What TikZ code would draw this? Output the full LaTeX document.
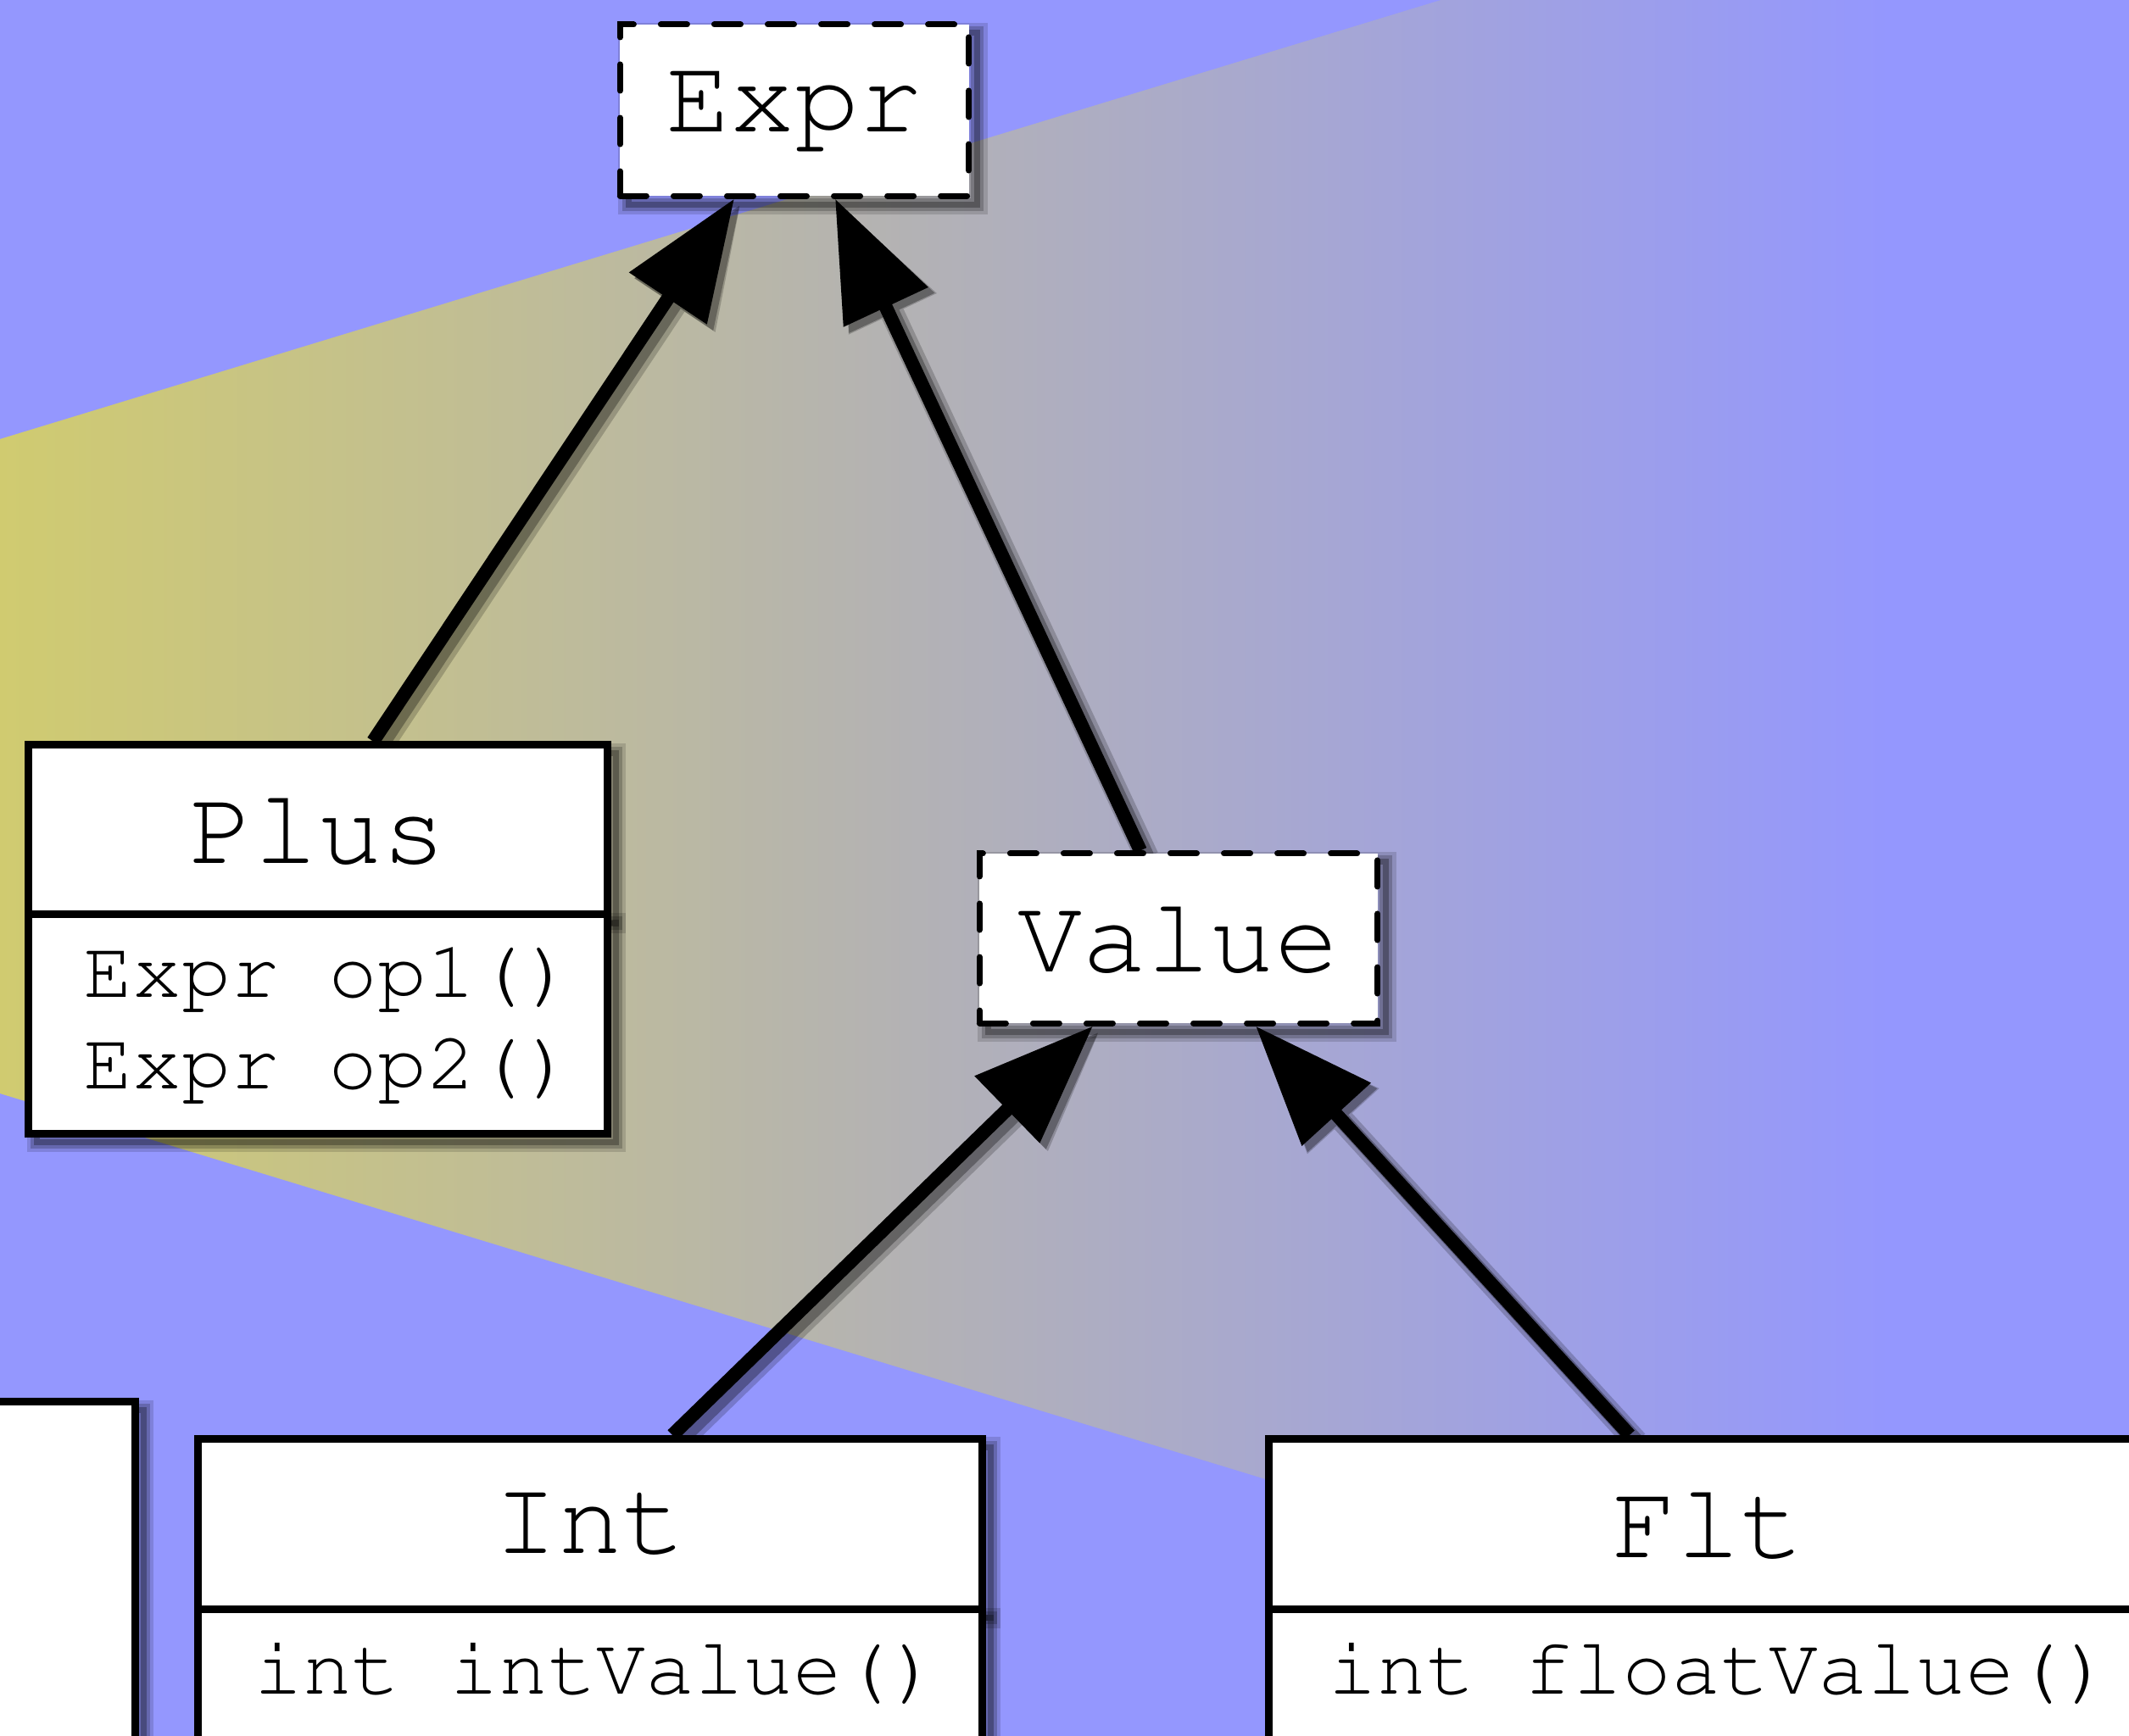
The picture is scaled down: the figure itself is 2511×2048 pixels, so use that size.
\documentclass[tikz,border=0pt]{standalone}
\usepackage[T1]{fontenc}
\usepackage{courier}
\usetikzlibrary{arrows.meta}
\definecolor{bgblue}{RGB}{148,151,254}
\definecolor{beamY}{RGB}{208,203,112}
\pgfdeclarelayer{backdrop}
\pgfdeclarelayer{arrowlayer}
\pgfsetlayers{backdrop,arrowlayer,main}
\tikzset{
  softshadow/.style={
    preaction={draw=black, solid, draw opacity=0.14, line width=0.24cm, transform canvas={xshift=0.10cm, yshift=-0.10cm}},
    preaction={draw=black, solid, draw opacity=0.2, line width=0.15cm, transform canvas={xshift=0.10cm, yshift=-0.10cm}},
    preaction={draw=black, solid, draw opacity=0.28, line width=0.07cm, transform canvas={xshift=0.10cm, yshift=-0.10cm}}},
  classbox/.style={softshadow, draw=black, fill=white, line width=0.09cm, inner sep=0pt},
  dashbox/.style={classbox, line width=0.07cm, dash pattern=on 0.31cm off 0.32cm, line cap=round},
  titlefont/.style={font=\ttfamily\fontsize{36}{40}\selectfont},
  bodyfont/.style={font=\ttfamily\fontsize{27.4}{30.6}\selectfont, align=center, inner sep=0pt},
  connector/.style={line width=0.16cm, -{Triangle[length=1.41cm, width=1.06cm]}},
  shadowA/.style={connector, line width=0.28cm, transform canvas={xshift=0.08cm, yshift=-0.08cm}},
  shadowB/.style={connector, line width=0.19cm, transform canvas={xshift=0.07cm, yshift=-0.07cm}},
}
\newcommand\drawconns[1]{%
  \draw[#1] ([xshift=0.65cm]plustitle.north) -- ([xshift=-0.71cm]expr.south);
  \draw[#1] ([xshift=-0.45cm]value.north) -- ([xshift=0.48cm]expr.south);
  \draw[#1] ([xshift=0.97cm]inttitle.north) -- ([xshift=-1.01cm]value.south);
  \draw[#1] ([xshift=-0.93cm]flttitle.north) -- ([xshift=0.91cm]value.south);
}
\begin{document}
\begin{tikzpicture}[x=0.01cm, y=-0.01cm]
\useasboundingbox (0,0) rectangle (2511,2048);
\begin{pgfonlayer}{backdrop}
  \fill[bgblue] (0,0) rectangle (2511,2048);
  \begin{scope}
    \clip (0,518) -- (2700,-305) -- (2700,2113) -- (0,1290) -- cycle;
    \shade[left color=beamY, right color=bgblue] (0,-400) rectangle (2230,2200);
  \end{scope}
\end{pgfonlayer}

% classes
\node[dashbox, titlefont, minimum width=4.11cm, minimum height=2.02cm] (expr) at (937,130) {Expr};
\node[dashbox, titlefont, minimum width=4.69cm, minimum height=2.00cm] (value) at (1390,1107) {Value};

\node[classbox, titlefont, minimum width=6.82cm, minimum height=2.00cm] (plustitle) at (375,979) {Plus};
\node[classbox, minimum width=6.82cm, minimum height=2.58cm] (plusbody) at (375,1208) {};
\node[bodyfont] (plusm) at (388,1207) {Expr op1()\\Expr op2()};

\node[classbox, minimum width=5.18cm, minimum height=5.92cm] (partial) at (-100,1950) {};

\node[classbox, titlefont, minimum width=9.24cm, minimum height=2.01cm] (inttitle) at (696,1798) {Int};
\node[classbox, minimum width=9.24cm, minimum height=3.00cm] (intbody) at (696,2049) {};
\node[bodyfont] (intm) at (704,1973) {int intValue()};

\node[classbox, titlefont, minimum width=10.36cm, minimum height=2.01cm] (flttitle) at (2015,1798) {Flt};
\node[classbox, minimum width=10.36cm, minimum height=3.00cm] (fltbody) at (2015,2049) {};
\node[bodyfont] (fltm) at (2029,1973) {int floatValue()};

% connectors with soft shadows
\begin{pgfonlayer}{arrowlayer}
  \begin{scope}[transparency group, opacity=0.2]
    \drawconns{shadowA}
  \end{scope}
  \begin{scope}[transparency group, opacity=0.3]
    \drawconns{shadowB}
  \end{scope}
  \drawconns{connector}
\end{pgfonlayer}
\end{tikzpicture}
\end{document}
